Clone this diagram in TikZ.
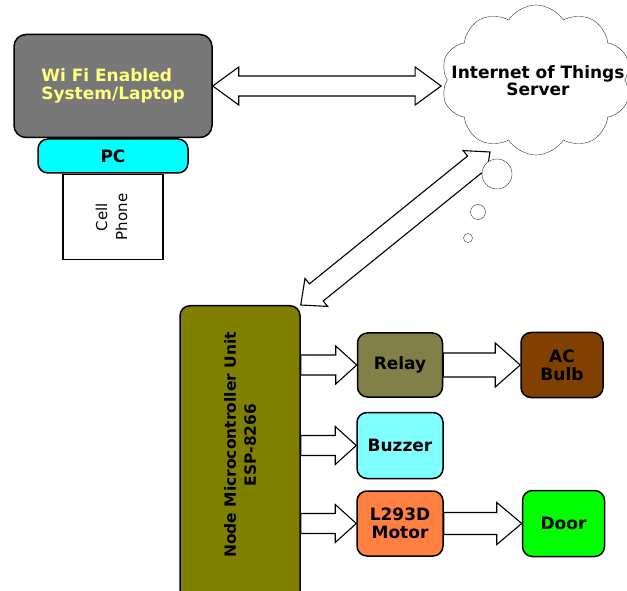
\documentclass[tikz,border=0pt]{standalone}
\usepackage{fontspec}
\setmainfont{DejaVu Sans}
\usetikzlibrary{positioning,calc,shapes.symbols,backgrounds}

\definecolor{laptopgray}{RGB}{120,120,120}
\definecolor{laptopyellow}{RGB}{255,255,128}
\definecolor{pccyan}{RGB}{0,255,255}
\definecolor{mcuolive}{RGB}{128,128,0}
\definecolor{relayolive}{RGB}{128,128,72}
\definecolor{bulbbrown}{RGB}{128,64,0}
\definecolor{buzzercyan}{RGB}{128,255,255}
\definecolor{motororange}{RGB}{255,128,64}
\definecolor{doorgreen}{RGB}{0,255,0}

% hollow block arrow: start, end, shaft half width, head half width, head length
\newcommand{\blockarrow}[5]{%
  \draw[flowarrow] let \p1=#1, \p2=#2, \n1={atan2(\y2-\y1,\x2-\x1)} in
    ($(\p1)+(\n1+90:#3)$) -- ($(\p2)+(\n1+180:#5)+(\n1+90:#3)$)
    -- ($(\p2)+(\n1+180:#5)+(\n1+90:#4)$) -- (\p2)
    -- ($(\p2)+(\n1+180:#5)+(\n1-90:#4)$) -- ($(\p2)+(\n1+180:#5)+(\n1-90:#3)$)
    -- ($(\p1)+(\n1-90:#3)$) -- cycle;}
% same, with a head at both ends
\newcommand{\dblockarrow}[5]{%
  \draw[flowarrow] let \p1=#1, \p2=#2, \n1={atan2(\y2-\y1,\x2-\x1)} in
    (\p1) -- ($(\p1)+(\n1:#5)+(\n1+90:#4)$) -- ($(\p1)+(\n1:#5)+(\n1+90:#3)$)
    -- ($(\p2)+(\n1+180:#5)+(\n1+90:#3)$) -- ($(\p2)+(\n1+180:#5)+(\n1+90:#4)$) -- (\p2)
    -- ($(\p2)+(\n1+180:#5)+(\n1-90:#4)$) -- ($(\p2)+(\n1+180:#5)+(\n1-90:#3)$)
    -- ($(\p1)+(\n1:#5)+(\n1-90:#3)$) -- ($(\p1)+(\n1:#5)+(\n1-90:#4)$) -- cycle;}

\begin{document}
\begin{tikzpicture}[x=1pt, y=1pt,
  unitbox/.style={draw=black, line width=1.5pt, rounded corners=10pt, font=\fontsize{17}{18}\selectfont\bfseries, align=center, inner sep=2pt},
  flowarrow/.style={draw=black, line width=1.1pt, fill=white},
  bubble/.style={circle, draw=black!80, thin, fill=white, inner sep=0pt}]
\useasboundingbox (0,0) rectangle (627,590);
\clip (0,0) rectangle (627,590);

% user side
\node[unitbox, fill=laptopgray, text=laptopyellow, align=left, minimum width=198pt, minimum height=103pt, rounded corners=12pt] (laptop) at (113,504) {Wi Fi Enabled\\System/Laptop};
\node[unitbox, fill=pccyan, minimum width=150pt, minimum height=34pt, below=0pt of laptop] (pc) {PC};
\node[draw=black, line width=1.5pt, fill=white, minimum width=100pt, minimum height=85pt, font=\fontsize{15}{20}\selectfont, below=0pt of pc] (phone) {\rotatebox{90}{\begin{tabular}{@{}c@{}}Cell\\Phone\end{tabular}}};

% server cloud
\node[bubble, minimum size=30pt] (bub1) at (497,416) {};
\node[bubble, minimum size=15pt] (bub2) at (478,378) {};
\node[bubble, minimum size=9pt] (bub3) at (468,352) {};
\node[cloud, cloud puffs=10, cloud puff arc=115, cloud ignores aspect, draw=black!80, thin, fill=white, inner sep=0pt, minimum width=190pt, minimum height=150pt] (iot) at (536,510) {};
\node[font=\fontsize{17}{16}\selectfont\bfseries, align=center] (iottext) at (538,509) {Internet of Things\\Server};

% controller side
\node[unitbox, fill=mcuolive, minimum width=120pt, minimum height=320pt, anchor=north] (mcu) at (240,285) {};
\node[font=\fontsize{15.5}{20}\selectfont\bfseries, rotate=90, align=center] (mcutext) at ($(mcu.north)+(0,-140)$) {Node Microcontroller Unit\\ESP-8266};

\node[unitbox, fill=relayolive, minimum width=85pt, minimum height=64pt] (relay) at (400,225) {Relay};
\node[unitbox, fill=buzzercyan, minimum width=86pt, minimum height=66pt, below=14pt of relay] (buzzer) {Buzzer};
\node[unitbox, fill=motororange, minimum width=86pt, minimum height=65pt, below=11pt of buzzer] (motor) {L293D\\Motor};
\node[unitbox, fill=bulbbrown, minimum width=82pt, minimum height=65pt, right=77pt of relay] (bulb) {AC\\Bulb};
\node[unitbox, fill=doorgreen, minimum width=82pt, minimum height=66pt, right=78pt of motor] (door) {Door};

% links
\coordinate (linktip) at (490,438);
\begin{scope}[on background layer]
\dblockarrow{(laptop.east)}{($(iot.west |- laptop.east)+(-6,0)$)}{10}{19}{26}
\dblockarrow{(mcu.north east)}{(linktip)}{11}{18}{20}
\blockarrow{(mcu.east |- relay.west)}{(relay.west)}{10}{19}{21}
\blockarrow{(mcu.east |- buzzer.west)}{(buzzer.west)}{10}{19}{21}
\blockarrow{(mcu.east |- motor.west)}{(motor.west)}{10}{19}{21}
\blockarrow{(relay.east)}{(bulb.west)}{12}{22}{25}
\blockarrow{(motor.east)}{(door.west)}{11}{21}{25}
\end{scope}
\end{tikzpicture}
\end{document}
